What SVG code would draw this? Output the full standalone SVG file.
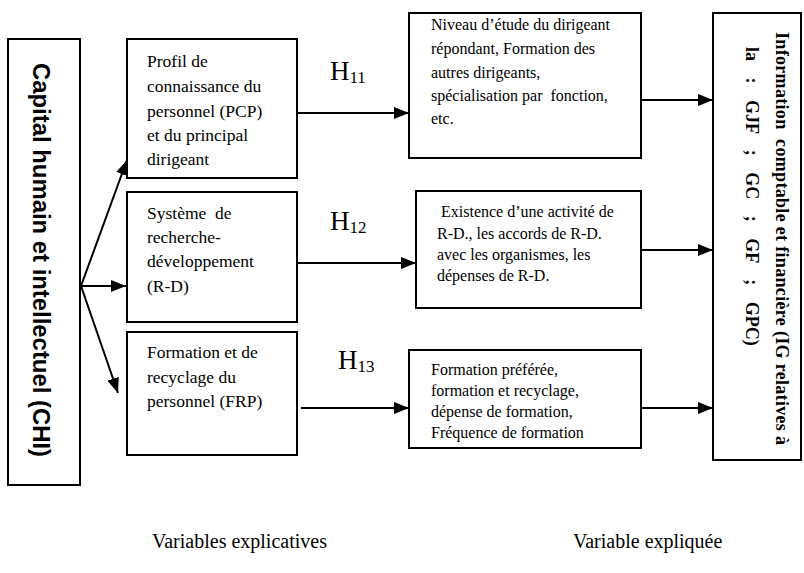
<svg xmlns="http://www.w3.org/2000/svg" width="804" height="573" viewBox="0 0 804 573">
<style>
.box{fill:#fff;stroke:#000;stroke-width:2}
.t{font-family:"Liberation Serif","Times New Roman",serif;fill:#000}
.t1{font-size:17.5px}
.t2{font-size:16px}
.h{font-size:27px}
.sub{font-size:17px}
.c{fill:none;stroke:#000;stroke-width:2}
</style>
<defs>
<marker id="ah" markerUnits="userSpaceOnUse" markerWidth="16" markerHeight="12" refX="15" refY="6" orient="auto">
<path d="M0,0 L15,6 L0,12 Z" fill="#000"/>
</marker>
</defs>
<rect width="804" height="573" fill="#fff"/>
<g id="chi">
<rect class="box" x="8" y="39" width="72" height="446"/>
<text transform="translate(33,260) rotate(90)" text-anchor="middle" font-family="Liberation Sans, Arial, sans-serif" font-weight="bold" font-size="23.5" textLength="394" lengthAdjust="spacingAndGlyphs">Capital humain et intellectuel (CHI)</text>
</g>
<g id="pcp" font-family="Liberation Serif, Times New Roman, serif">
<rect class="box" x="127" y="39" width="170" height="139"/>
<text class="t t1"><tspan x="147" y="67">Profil de</tspan><tspan x="147" y="92">connaissance du</tspan><tspan x="147" y="117">personnel (PCP)</tspan><tspan x="147" y="141">et du principal</tspan><tspan x="147" y="165">dirigeant</tspan></text>
</g>
<g id="rd" font-family="Liberation Serif, Times New Roman, serif">
<rect class="box" x="127" y="192" width="170" height="130"/>
<text class="t t1" xml:space="preserve"><tspan x="147" y="219">Système  de</tspan><tspan x="147" y="243">recherche-</tspan><tspan x="147" y="267">développement</tspan><tspan x="147" y="292">(R-D)</tspan></text>
</g>
<g id="frp" font-family="Liberation Serif, Times New Roman, serif">
<rect class="box" x="127" y="332" width="170" height="123"/>
<text class="t t1"><tspan x="147" y="358">Formation et de</tspan><tspan x="147" y="383">recyclage du</tspan><tspan x="147" y="407">personnel (FRP)</tspan></text>
</g>
<g id="niveau" font-family="Liberation Serif, Times New Roman, serif">
<rect class="box" x="409" y="13" width="232" height="145"/>
<text class="t t2" xml:space="preserve"><tspan x="431" y="30">Niveau d’étude du dirigeant</tspan><tspan x="431" y="54">répondant, Formation des</tspan><tspan x="431" y="78">autres dirigeants,</tspan><tspan x="431" y="101">spécialisation par  fonction,</tspan><tspan x="431" y="124">etc.</tspan></text>
</g>
<g id="existence" font-family="Liberation Serif, Times New Roman, serif">
<rect class="box" x="416" y="191" width="225" height="117"/>
<text class="t t2"><tspan x="441" y="217">Existence d’une activité de</tspan><tspan x="437" y="239">R-D., les accords de R-D.</tspan><tspan x="437" y="260">avec les organismes, les</tspan><tspan x="437" y="281">dépenses de R-D.</tspan></text>
</g>
<g id="formpref" font-family="Liberation Serif, Times New Roman, serif">
<rect class="box" x="409" y="350" width="232" height="98"/>
<text class="t t2"><tspan x="431" y="375">Formation préférée,</tspan><tspan x="431" y="396">formation et recyclage,</tspan><tspan x="431" y="417">dépense de formation,</tspan><tspan x="431" y="438">Fréquence de formation</tspan></text>
</g>
<g id="info" font-family="Liberation Serif, Times New Roman, serif">
<rect class="box" x="713" y="13" width="88" height="447"/>
<text class="t" font-weight="bold" font-size="18" transform="translate(776,32) rotate(90)" textLength="413" lengthAdjust="spacing" xml:space="preserve">Information  comptable et financière (IG relatives à</text>
<text class="t" font-weight="bold" font-size="18" transform="translate(746,47) rotate(90)" word-spacing="12">la : GJF ; GC ; GF ; GPC)</text>
</g>
<g id="labels" font-family="Liberation Serif, Times New Roman, serif">
<text class="t h" x="330" y="80">H<tspan class="sub" dy="3">11</tspan></text>
<text class="t h" x="330" y="230">H<tspan class="sub" dy="3">12</tspan></text>
<text class="t h" x="338" y="369">H<tspan class="sub" dy="3">13</tspan></text>
<text class="t" font-size="20" x="152" y="548">Variables explicatives</text>
<text class="t" font-size="20" x="573" y="548">Variable expliquée</text>
</g>
<g id="connectors">
<line class="c" x1="81" y1="286" x2="127" y2="160" marker-end="url(#ah)"/>
<line class="c" x1="81" y1="286" x2="126" y2="286" marker-end="url(#ah)"/>
<line class="c" x1="81" y1="286" x2="118" y2="393" marker-end="url(#ah)"/>
<line class="c" x1="297" y1="113" x2="409" y2="113" marker-end="url(#ah)"/>
<line class="c" x1="297" y1="263" x2="416" y2="263" marker-end="url(#ah)"/>
<line class="c" x1="301" y1="408" x2="409" y2="408" marker-end="url(#ah)"/>
<line class="c" x1="641" y1="100" x2="713" y2="100" marker-end="url(#ah)"/>
<line class="c" x1="641" y1="250" x2="713" y2="250" marker-end="url(#ah)"/>
<line class="c" x1="641" y1="408" x2="713" y2="408" marker-end="url(#ah)"/>
</g>
</svg>
